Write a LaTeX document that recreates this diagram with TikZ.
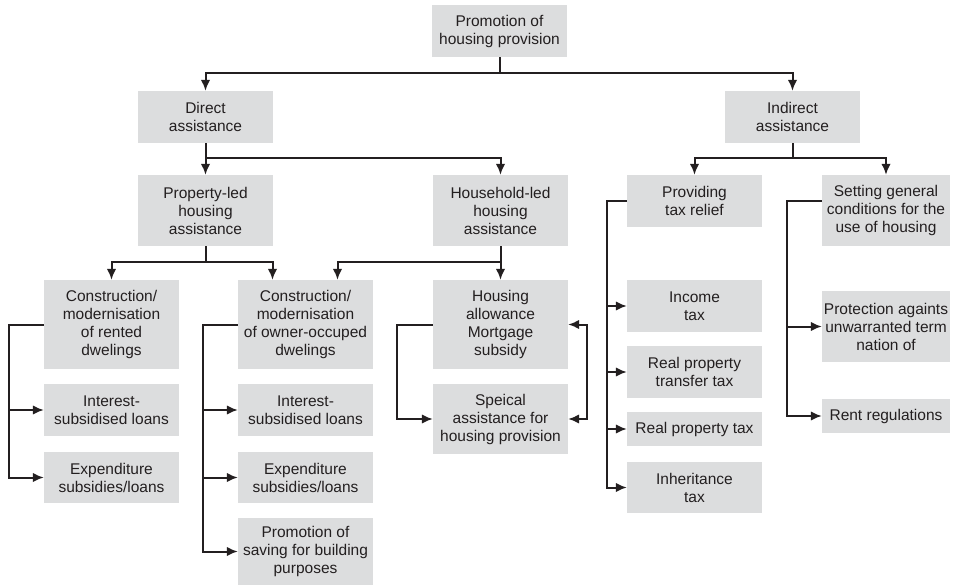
\documentclass[tikz,border=0pt]{standalone}
\usepackage{fontspec}
\setmainfont{Liberation Sans}
\usetikzlibrary{arrows.meta,positioning,calc}
\definecolor{boxgray}{HTML}{DCDDDE}
\definecolor{linegray}{HTML}{231F20}

\begin{document}
\begin{tikzpicture}[
		x=1pt, y=-1pt,
		>={Latex[length=11pt,width=9.5pt]},
		font=\fontsize{15.5}{18}\selectfont,
		block/.style={
			rectangle,
			fill=boxgray,
			draw=none,
			text=linegray,
			align=center,
			inner sep=0pt,
			minimum width=135pt
		},
		link/.style={
			draw=linegray,
			line width=2pt
		}
		]
		\useasboundingbox (0,0) rectangle (953,585);
		% We start by placing the blocks

		\node [block, minimum height=52pt] (top) at (499.5,31) {Promotion of\\housing provision};

		\node [block, minimum height=52pt] (direct) at (205.5,117) {Direct\\assistance};
		\node [block, minimum height=52pt] (indirect) at (792.5,117) {Indirect\\assistance};

		\node [block, minimum height=71pt] (prop) at (205.5,210.5) {Property-led\\housing\\assistance};
		\node [block, minimum height=71pt] (hh) at (500.5,210.5) {Household-led\\housing\\assistance};
		\node [block, minimum height=52pt] (tax) at (694.5,201) {Providing\\tax relief};
		\node [block, minimum height=71pt, minimum width=128pt] (gen) at (886,210.5) {Setting general\\conditions for the\\use of housing};

		% rented dwellings
		\node [block, minimum height=89pt] (crent) at (111.5,324.5) {Construction/\\modernisation\\of rented\\dwelings};
		\node [block, minimum height=52pt] (irent) at (111.5,410) {Interest-\\subsidised loans};
		\node [block, minimum height=51pt] (erent) at (111.5,477.5) {Expenditure\\subsidies/loans};

		% owner-occupied dwellings
		\node [block, minimum height=89pt] (cown) at (305.5,324.5) {Construction/\\modernisation\\of owner-occuped\\dwelings};
		\node [block, minimum height=52pt] (iown) at (305.5,410) {Interest-\\subsidised loans};
		\node [block, minimum height=51pt] (eown) at (305.5,477.5) {Expenditure\\subsidies/loans};
		\node [block, minimum height=67pt] (sown) at (305.5,551.5) {Promotion of\\saving for building\\purposes};

		% household-led
		\node [block, minimum height=89pt] (hall) at (500.5,324.5) {Housing\\allowance\\Mortgage\\subsidy};
		\node [block, minimum height=70pt] (spec) at (500.5,419) {Speical\\assistance for\\housing provision};

		% tax relief
		\node [block, minimum height=52pt] (income) at (694.5,306) {Income\\tax};
		\node [block, minimum height=52pt] (transfer) at (694.5,372) {Real property\\transfer tax};
		\node [block, minimum height=34pt] (ptax) at (694.5,429) {Real property tax};
		\node [block, minimum height=51pt] (inh) at (694.5,487.5) {Inheritance\\tax};

		% general conditions
		\node [block, minimum height=71pt, minimum width=128pt] (prot) at (886,326.5) {Protection againts\\unwarranted term\\nation of};
		\node [block, minimum height=34pt, minimum width=128pt] (rent) at (886,416) {Rent regulations};

		% tree links
		\draw [link,->] (top.south) -- ++(0,16) -| (direct.north);
		\draw [link,->] (top.south) -- ++(0,16) -| (indirect.north);

		\draw [link,->] (direct) -- (prop);
		\draw [link,->] (direct.south) -- ++(0,15) -| (hh.north);

		\draw [link,->] (indirect.south) -- ++(0,15) -| (tax.north);
		\draw [link,->] (indirect.south) -- ++(0,15) -| (gen.north);

		\draw [link,->] (prop.south) -- ++(0,16) -| (crent.north);
		\draw [link,->] (prop.south) -- ++(0,16) -| ($(cown.north)+(-33,0)$);

		\draw [link,->] (hh) -- (hall);
		\draw [link,->] (hh.south) -- ++(0,16) -| ($(cown.north)+(32,0)$);

		% side brackets
		\foreach \n in {irent,erent}
			\draw [link,->] (crent.west) -- ++(-35,0) |- (\n.west);
		\foreach \n in {iown,eown,sown}
			\draw [link,->] (cown.west) -- ++(-35,0) |- (\n.west);
		\draw [link,->] (hall.west) -- ++(-36,0) |- (spec.west);
		\draw [link,<->] (hall.east) -- ++(19,0) |- (spec.east);
		\foreach \n in {income,transfer,ptax,inh}
			\draw [link,->] (tax.west) -- ++(-20,0) |- (\n.west);
		\foreach \n in {prot,rent}
			\draw [link,->] (gen.west |- tax.west) -- ++(-35,0) |- (\n.west);

\end{tikzpicture}
\end{document}
